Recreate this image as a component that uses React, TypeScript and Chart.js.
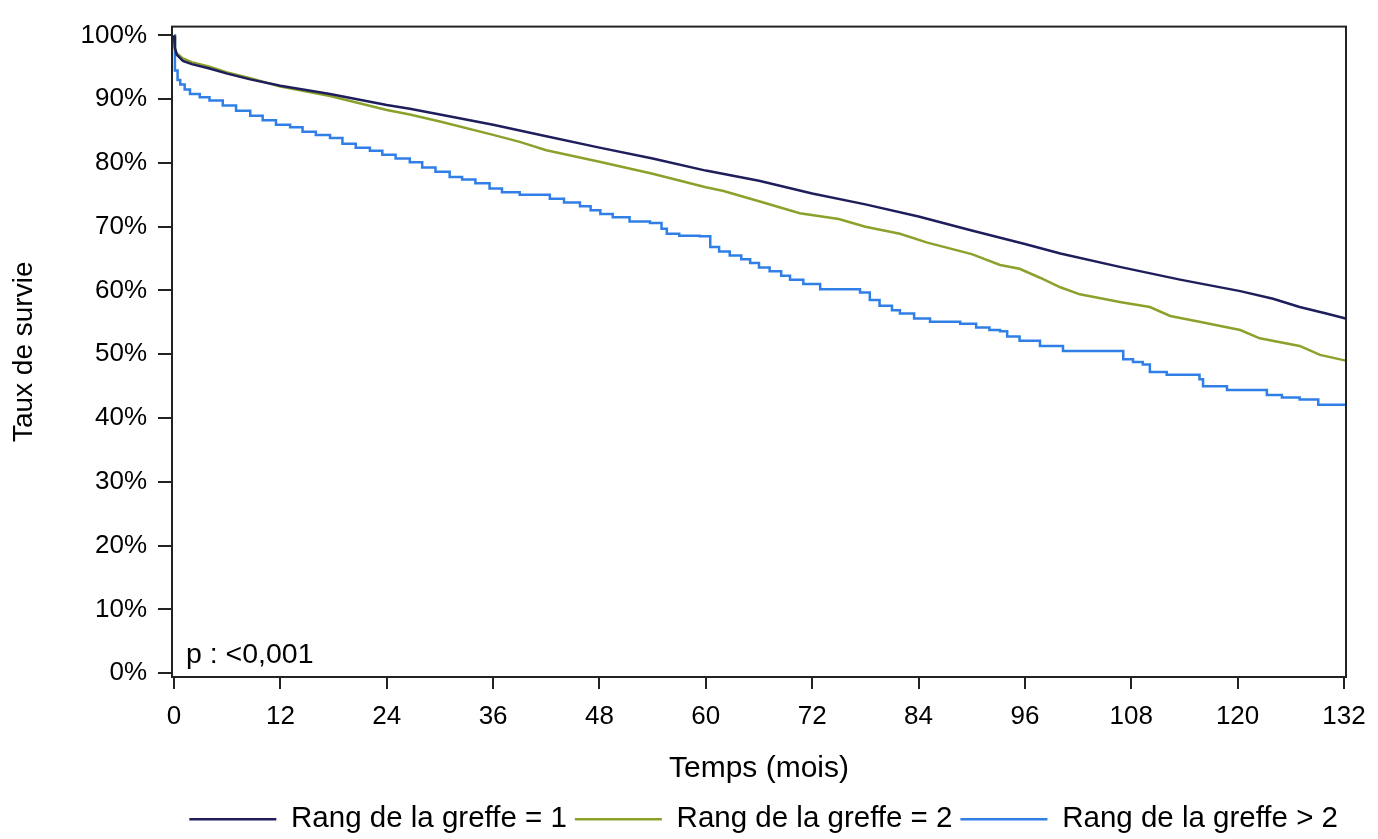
import React, { useEffect, useRef } from "react";
import { Chart, registerables } from "chart.js";

Chart.register(...registerables);

const seriesLabels = ["Rang de la greffe = 1", "Rang de la greffe = 2", "Rang de la greffe > 2"];
const seriesColors = ["#1E1E5C", "#8AA22C", "#2F7FE6"];

const rank1Months = [0, 0.1, 0.3, 1, 2, 4, 6, 8.6, 12, 17.6, 24, 26.6, 30, 36, 42, 48, 54, 60, 66, 72, 78, 84, 90, 96, 100, 106.7, 113.5, 120.3, 124, 127, 130, 132.2];
const rank1Values = [100, 98, 97, 96, 95.5, 94.8, 94, 93.1, 92.1, 90.8, 89.1, 88.5, 87.6, 86, 84.2, 82.4, 80.7, 78.8, 77.2, 75.2, 73.5, 71.6, 69.4, 67.3, 65.8, 63.7, 61.7, 59.9, 58.7, 57.4, 56.4, 55.6];

const rank2Months = [0, 0.1, 0.3, 1, 2, 4, 6, 8.6, 12, 17.6, 24, 26.6, 30, 36, 39, 42, 48, 54, 60, 62, 66, 70.6, 75, 78, 81.9, 85, 90, 93.2, 95.4, 97.7, 100, 102.2, 106.7, 110.1, 112.4, 115.7, 120.3, 122.5, 127, 129.3, 132.2];
const rank2Values = [100, 98, 97.2, 96.4, 95.8, 95.1, 94.2, 93.3, 92, 90.5, 88.3, 87.6, 86.5, 84.4, 83.3, 82, 80.2, 78.3, 76.2, 75.6, 74, 72.1, 71.2, 70, 68.9, 67.5, 65.7, 64, 63.4, 62, 60.5, 59.4, 58.2, 57.4, 56, 55.1, 53.8, 52.5, 51.3, 49.9, 49];

const rank3Months = [0, 0.1, 0.4, 0.7, 1.2, 1.8, 2.9, 4, 5.5, 7, 8.6, 10, 11.5, 13.1, 14.5, 16, 17.6, 19, 20.5, 22.1, 23.5, 25, 26.6, 28, 29.5, 31.1, 32.5, 34, 35.6, 37, 39, 42.4, 44, 45.8, 47, 48.1, 49.5, 51.4, 53.7, 55, 55.6, 57, 59.3, 60.5, 61.5, 62.7, 64, 65, 66, 67.2, 68.5, 69.5, 71, 72.9, 77.4, 78.5, 79.6, 81, 81.9, 83.5, 85.3, 88.7, 90.5, 92, 93.2, 94, 95.4, 97.7, 100.3, 107.1, 108.2, 109.3, 110.1, 112, 115.7, 116.1, 118.8, 123.3, 125, 127, 129.1, 132.2];
const rank3Values = [100, 94.5, 93, 92.3, 91.5, 90.8, 90.3, 89.8, 89, 88.2, 87.4, 86.7, 86, 85.6, 84.9, 84.4, 83.9, 83, 82.4, 81.9, 81.3, 80.7, 80.1, 79.3, 78.6, 77.8, 77.4, 76.8, 76, 75.4, 75, 74.4, 73.8, 73.2, 72.6, 72, 71.5, 70.8, 70.6, 69.7, 68.9, 68.6, 68.5, 66.8, 66.1, 65.5, 64.9, 64.3, 63.6, 63, 62.3, 61.7, 61, 60.2, 59.7, 58.5, 57.6, 56.9, 56.4, 55.6, 55.1, 54.8, 54.2, 53.8, 53.6, 52.8, 52.1, 51.3, 50.5, 49.2, 48.8, 48.4, 47.2, 46.8, 46.1, 45, 44.4, 43.6, 43.2, 42.9, 42.1, 42.1];

const xTicks = [0, 12, 24, 36, 48, 60, 72, 84, 96, 108, 120, 132];
const yTicks = [0, 10, 20, 30, 40, 50, 60, 70, 80, 90, 100];

const xTitle = "Temps (mois)";
const yTitle = "Taux de survie";
const pValueText = "p : <0,001";

const FONT = "'Liberation Sans', Arial, sans-serif";

function toPoints(xs: number[], ys: number[]) {
  return xs.map((x, i) => ({ x, y: ys[i] }));
}

export default function App() {
  const canvasRef = useRef<HTMLCanvasElement | null>(null);

  useEffect(() => {
    const canvas = canvasRef.current;
    if (!canvas) return;

    const framePlugin = {
      id: "frameAndText",
      afterDraw(chart: any) {
        const { ctx, chartArea } = chart;
        ctx.save();
        ctx.strokeStyle = "#222";
        ctx.lineWidth = 2;
        ctx.strokeRect(chartArea.left, chartArea.top, chartArea.right - chartArea.left, chartArea.bottom - chartArea.top);
        ctx.fillStyle = "#000";
        ctx.font = `28.5px ${FONT}`;
        ctx.textAlign = "left";
        ctx.textBaseline = "alphabetic";
        ctx.fillText(pValueText, chartArea.left + 14, chartArea.bottom - 14);
        ctx.restore();
      },
    };

    const chart = new Chart(canvas, {
      type: "line",
      data: {
        datasets: [
          { label: seriesLabels[0], data: toPoints(rank1Months, rank1Values), borderColor: seriesColors[0], backgroundColor: seriesColors[0], borderWidth: 2.5, pointRadius: 0, stepped: false, tension: 0 },
          { label: seriesLabels[1], data: toPoints(rank2Months, rank2Values), borderColor: seriesColors[1], backgroundColor: seriesColors[1], borderWidth: 2.5, pointRadius: 0, stepped: false, tension: 0 },
          { label: seriesLabels[2], data: toPoints(rank3Months, rank3Values), borderColor: seriesColors[2], backgroundColor: seriesColors[2], borderWidth: 2.5, pointRadius: 0, stepped: true },
        ],
      },
      options: {
        responsive: false,
        animation: false,
        events: [],
        layout: { padding: { top: 11, right: 32, left: 0, bottom: -5 } },
        plugins: {
          tooltip: { enabled: false },
          legend: {
            display: true,
            position: "bottom",
            fullSize: false,
            align: "end",
            labels: {
              usePointStyle: true,
              pointStyle: "line",
              pointStyleWidth: 87,
              padding: 8,
              color: "#000",
              font: { family: FONT, size: 29.5 },
            },
          },
        },
        scales: {
          x: {
            type: "linear",
            min: -0.23,
            max: 132.23,
            afterBuildTicks: (scale: any) => {
              scale.ticks = xTicks.map((v) => ({ value: v }));
            },
            afterFit: (scale: any) => {
              scale.height = 119.5;
            },
            ticks: {
              color: "#000",
              font: { family: FONT, size: 26 },
              padding: 12,
              maxRotation: 0,
              autoSkip: false,
              callback: (v: any) => String(v),
            },
            grid: { display: true, drawOnChartArea: false, drawTicks: true, tickLength: 12, color: "#222", lineWidth: 2 },
            border: { display: true, color: "#222", width: 2 },
            title: { display: true, text: xTitle, color: "#000", font: { family: FONT, size: 30 }, padding: { top: 0, bottom: 10 } },
          },
          y: {
            type: "linear",
            min: -0.61,
            max: 101.38,
            afterBuildTicks: (scale: any) => {
              scale.ticks = yTicks.map((v) => ({ value: v }));
            },
            afterFit: (scale: any) => {
              scale.width = 172;
            },
            ticks: {
              color: "#000",
              font: { family: FONT, size: 26 },
              padding: 11,
              autoSkip: false,
              callback: (v: any) => `${v}%`,
            },
            grid: { display: true, drawOnChartArea: false, drawTicks: true, tickLength: 14, color: "#222", lineWidth: 2 },
            border: { display: true, color: "#222", width: 2 },
            title: { display: true, text: yTitle, color: "#000", font: { family: FONT, size: 28 }, padding: { top: 7, bottom: 0 } },
          },
        },
      },
      plugins: [framePlugin],
    } as any);

    return () => {
      chart.destroy();
    };
  }, []);

  return (
    <div style={{ position: "fixed", left: 0, top: 0, width: 1378, height: 839, background: "#fff" }}>
      <canvas ref={canvasRef} width={1378} height={839} style={{ display: "block", width: 1378, height: 839 }} />
    </div>
  );
}
